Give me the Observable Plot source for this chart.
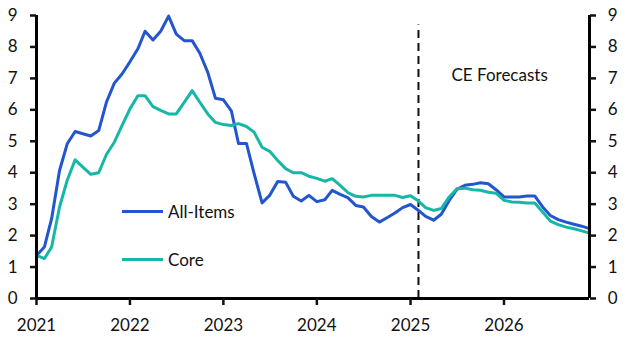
<!DOCTYPE html>
<html>
<head>
<meta charset="utf-8">
<script src="https://cdn.jsdelivr.net/npm/d3@7"></script>
<script src="https://cdn.jsdelivr.net/npm/@observablehq/plot@0.6"></script>
<style>
  html, body { margin: 0; padding: 0; background: #fff; }
  #wrap { position: relative; width: 630px; height: 355px; font-family: Lato, "Open Sans", sans-serif; }
  .leg { position: absolute; display: flex; align-items: center; font-size: 17px; color: #111; }
  .leg .sw { width: 41px; height: 3px; margin-right: 5px; }
</style>
</head>
<body>
<div id="wrap"></div>
<script>
// ---- data ----
const startMonth = "2021-01-01";
const endMonth = "2026-12-01";
const allItems = [
  1.37, 1.64, 2.54, 4.07, 4.92, 5.31, 5.24, 5.17, 5.34, 6.24, 6.85, 7.14,
  7.53, 7.94, 8.50, 8.22, 8.50, 8.98, 8.41, 8.20, 8.20, 7.80, 7.19, 6.37,
  6.32, 5.97, 4.93, 4.93, 3.97, 3.04, 3.28, 3.72, 3.70, 3.25, 3.10, 3.28,
  3.08, 3.14, 3.44, 3.31, 3.21, 2.96, 2.91, 2.61, 2.43, 2.57, 2.72, 2.89,
  2.99, 2.80, 2.61, 2.49, 2.68, 3.12, 3.47, 3.60, 3.63, 3.68, 3.65, 3.46,
  3.23, 3.23, 3.23, 3.26, 3.26, 2.91, 2.64, 2.51, 2.43, 2.36, 2.30, 2.22
];
const core = [
  1.37, 1.27, 1.64, 2.91, 3.76, 4.41, 4.18, 3.95, 4.00, 4.58, 4.97, 5.50,
  6.03, 6.45, 6.45, 6.10, 5.98, 5.87, 5.87, 6.24, 6.61, 6.24, 5.87, 5.60,
  5.53, 5.50, 5.56, 5.47, 5.29, 4.81, 4.68, 4.39, 4.13, 4.00, 4.00, 3.89,
  3.82, 3.73, 3.81, 3.60, 3.37, 3.25, 3.23, 3.28, 3.28, 3.28, 3.28, 3.21,
  3.27, 3.10, 2.89, 2.80, 2.86, 3.23, 3.49, 3.51, 3.46, 3.44, 3.38, 3.35,
  3.12, 3.07, 3.06, 3.04, 3.04, 2.75, 2.46, 2.35, 2.27, 2.22, 2.15, 2.08
];
const seriesNames = ["All-Items", "Core"];
const seriesColors = ["#2355cf", "#16b7a6"];
const yTicks = [0, 1, 2, 3, 4, 5, 6, 7, 8, 9];
const xTickYears = ["2021", "2022", "2023", "2024", "2025", "2026"];
const forecastStart = "2025-02-01";
const forecastTop = 8.7;
const forecastLabel = "CE Forecasts";
const forecastLabelAt = { date: "2025-12-15", value: 7.1 };

// ---- build ----
const parse = d3.utcParse("%Y-%m-%d");
const months = d3.utcMonth.range(parse(startMonth), d3.utcMonth.offset(parse(endMonth), 1));
const rows = [];
months.forEach((d, i) => {
  rows.push({date: d, value: allItems[i], series: seriesNames[0]});
});
months.forEach((d, i) => {
  rows.push({date: d, value: core[i], series: seriesNames[1]});
});
const xDomain = [parse(startMonth), parse(endMonth)];
const xTicks = xTickYears.map(y => d3.utcParse("%Y")(y));

const plot = Plot.plot({
  width: 630,
  height: 355,
  marginLeft: 36,
  marginRight: 41,
  marginTop: 15,
  marginBottom: 57,
  style: { fontFamily: "Lato, 'Open Sans', sans-serif", fontSize: "17px", color: "#111", background: "#fff" },
  x: { type: "utc", domain: xDomain },
  y: { domain: [0, 9] },
  color: { domain: seriesNames, range: seriesColors },
  marks: [
    Plot.ruleX([parse(forecastStart)], { y1: 0, y2: forecastTop, stroke: "#111", strokeWidth: 2, strokeDasharray: "8,5" }),
    Plot.text([forecastLabelAt], { x: d => parse(d.date), y: "value", text: () => forecastLabel, fill: "#111", fontSize: 17 }),
    Plot.line(rows, { x: "date", y: "value", z: "series", stroke: "series", strokeWidth: 3, strokeLinejoin: "round" }),
    Plot.ruleY([0], { stroke: "#000", strokeWidth: 3 }),
    Plot.ruleX(xDomain, { y1: 0, y2: 9, stroke: "#000", strokeWidth: 3 }),
    Plot.axisY({ anchor: "left", ticks: yTicks, tickSize: 6, tickPadding: 13, strokeWidth: 2.5, label: null, tickFormat: d3.format("d") }),
    Plot.axisY({ anchor: "right", ticks: yTicks, tickSize: 6, tickPadding: 22, strokeWidth: 2.5, textAnchor: "end", label: null, tickFormat: d3.format("d") }),
    Plot.axisX({ anchor: "bottom", ticks: xTicks, tickSize: 7, tickPadding: 13, strokeWidth: 2.5, label: null, tickFormat: d3.utcFormat("%Y") })
  ]
});

const wrap = document.getElementById("wrap");
wrap.appendChild(plot);

// legend (inside plot area, HTML overlay)
const legendPos = [{ left: 122, top: 199 }, { left: 122, top: 247 }];
seriesNames.forEach((name, i) => {
  const el = document.createElement("div");
  el.className = "leg";
  el.style.left = legendPos[i].left + "px";
  el.style.top = legendPos[i].top + "px";
  el.style.height = "24px";
  const sw = document.createElement("span");
  sw.className = "sw";
  sw.style.background = seriesColors[i];
  const tx = document.createElement("span");
  tx.textContent = name;
  el.appendChild(sw);
  el.appendChild(tx);
  wrap.appendChild(el);
});
</script>
</body>
</html>
